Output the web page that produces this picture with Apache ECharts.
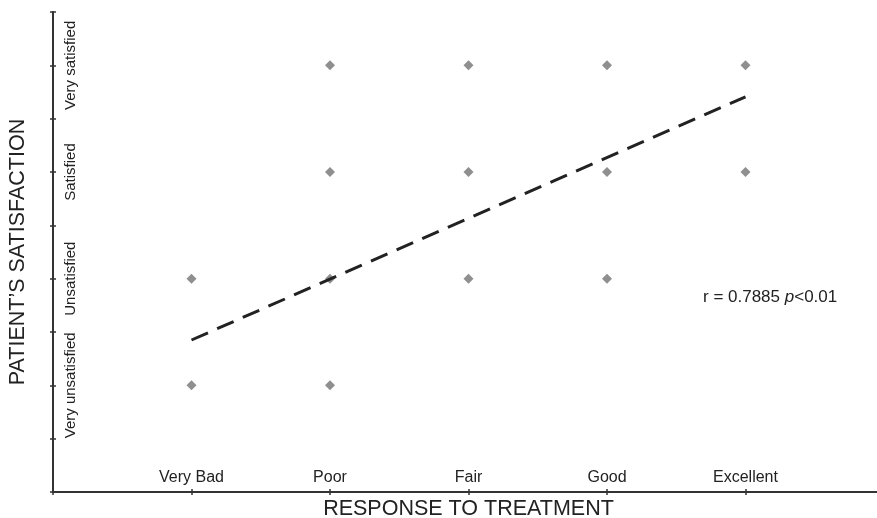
<!DOCTYPE html>
<html>
<head>
<meta charset="utf-8">
<script src="https://cdn.jsdelivr.net/npm/echarts@6/dist/echarts.min.js"></script>
<style>html,body{margin:0;padding:0;background:#fff}#c{width:877px;height:518px}</style>
</head>
<body>
<div id="c"></div>
<script>
var xCategories = ['', 'Very Bad', 'Poor', 'Fair', 'Good', 'Excellent'];
var yLabels = {2: 'Very unsatisfied', 4: 'Unsatisfied', 6: 'Satisfied', 8: 'Very satisfied'};
var points = [
  [1, 2], [1, 4],
  [2, 2], [2, 4], [2, 6], [2, 8],
  [3, 4], [3, 6], [3, 8],
  [4, 4], [4, 6], [4, 8],
  [5, 6], [5, 8]
];
var trendLine = [[1, 2.85], [5, 7.41]];
var annotation = 'r = 0.7885 ';

var chart = echarts.init(document.getElementById('c'));
var axisColor = '#333';
var ff = 'Liberation Sans, Arial, sans-serif';
var tickOnly = function (extra) {
  return Object.assign({
    min: 0, interval: 1, type: 'value',
    splitLine: {show: false},
    axisLine: {show: false},
    axisLabel: {show: false},
    axisTick: {inside: true, length: 3, lineStyle: {color: axisColor, width: 1.5}}
  }, extra);
};
chart.setOption({
  animation: false,
  textStyle: {fontFamily: ff},
  grid: {left: 53, right: -7, top: 12, bottom: 26, containLabel: false, outerBoundsMode: 'none'},
  xAxis: [{
    type: 'value', min: 0, max: 6, interval: 1,
    name: 'RESPONSE TO TREATMENT', nameLocation: 'middle', nameGap: 5,
    nameTextStyle: {fontSize: 21.5, color: '#222'},
    splitLine: {show: false},
    axisLine: {lineStyle: {color: axisColor, width: 2}},
    axisTick: {length: 3, lineStyle: {color: axisColor, width: 1.5}},
    axisLabel: {inside: true, margin: 6, fontSize: 16, color: '#222',
      formatter: function (v) { return xCategories[v] || ''; }}
  }, tickOnly({max: 6, position: 'bottom'})],
  yAxis: [{
    type: 'value', min: 0, max: 9, interval: 1,
    name: 'PATIENT\u2019S SATISFACTION', nameLocation: 'middle', nameGap: 24, nameRotate: 90,
    nameTextStyle: {fontSize: 21.5, color: '#222'},
    splitLine: {show: false},
    axisLine: {lineStyle: {color: axisColor, width: 2}},
    axisTick: {length: 3, lineStyle: {color: axisColor, width: 1.5}},
    axisLabel: {inside: true, rotate: 90, margin: 10, fontSize: 15, color: '#222',
      formatter: function (v) { return yLabels[v] || ''; }}
  }, tickOnly({max: 9, position: 'left'})],
  graphic: [{
    type: 'text', left: 703, top: 289,
    style: {
      text: annotation + '{i|p}<0.01',
      fontSize: 17, fill: '#222', fontFamily: ff,
      rich: {i: {fontStyle: 'italic', fontSize: 17, fill: '#222', fontFamily: ff}}
    }
  }],
  series: [
    {
      type: 'scatter', data: points, symbol: 'diamond', symbolSize: 10,
      xAxisIndex: 0, yAxisIndex: 0,
      itemStyle: {color: '#737373'}
    },
    {
      type: 'line', data: trendLine, symbol: 'none',
      xAxisIndex: 0, yAxisIndex: 0,
      lineStyle: {color: '#222', width: 3, type: [18, 10]}
    }
  ]
});
</script>
</body>
</html>
